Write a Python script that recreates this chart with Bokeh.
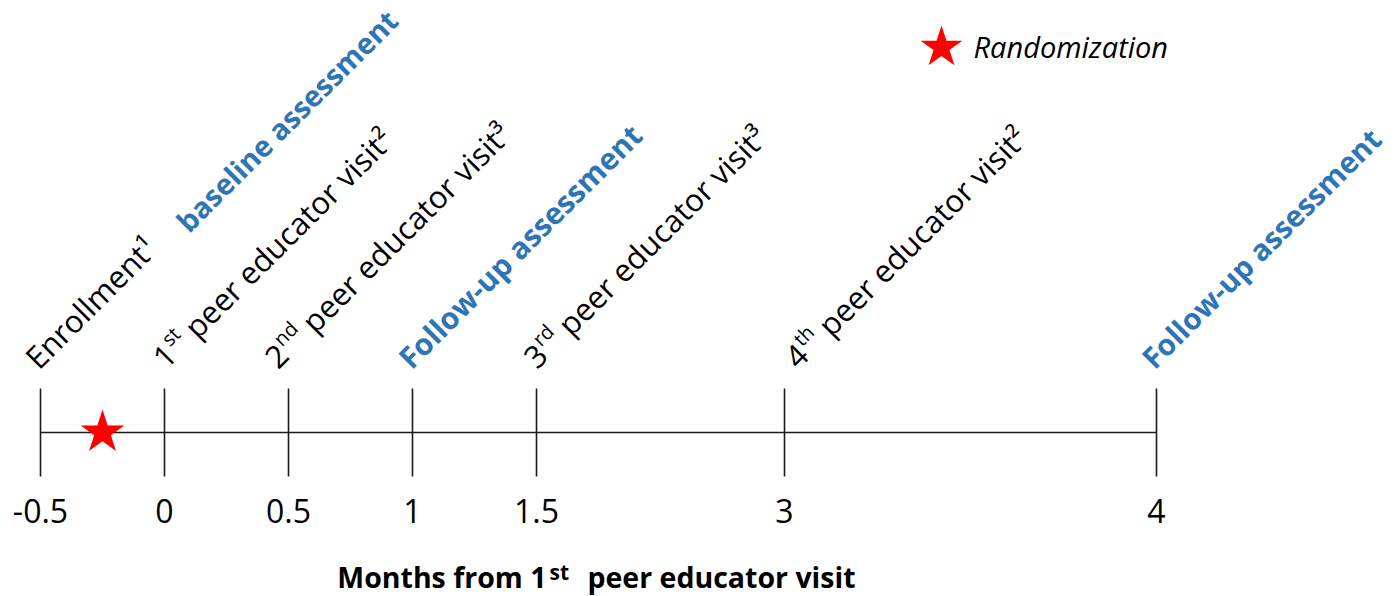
import math
import numpy as np
from bokeh.plotting import figure
from bokeh.models import Range1d
from bokeh.core.properties import value
from bokeh.embed import file_html
from bokeh.resources import INLINE

# ---------------- data ----------------
months = [-0.5, 0, 0.5, 1, 1.5, 3, 4]
tick_labels = ["-0.5", "0", "0.5", "1", "1.5", "3", "4"]
# event label at each month: prefix, superscript ordinal, remainder
event_prefix = ["Enrollment\u00b9", "1", "2", "Follow-up assessment", "3", "4", "Follow-up assessment"]
event_ordinal = ["", "st", "nd", "", "rd", "th", ""]
event_rest = ["", " peer educator visit\u00b2", " peer educator visit\u00b3", "",
              " peer educator visit\u00b3", " peer educator visit\u00b2", ""]
event_kind = ["visit", "visit", "visit", "assessment", "visit", "visit", "assessment"]
baseline_label = "baseline assessment"
baseline_month = -0.5
randomization_month = -0.25
title_left, title_sup, title_right = "Months from 1", "st", "peer educator visit"
legend_label = "Randomization"

# ---------------- layout ----------------
slot_pos = [0, 1, 2, 3, 4, 6, 9]          # display slots of the months (non-linear time axis)
PX = 124.0                                  # pixels per slot
label_dx = [-10, -6, -18, -9, -7, 6, -10]   # px shift of each rotated label start
LABEL_Y = 70                                # px above the timeline
TICK_HALF = 44
FONT = value("Open Sans")
BLUE = "#2E75B6"
RED = "#FF0000"
LINE = "#1a1a1a"
FS = 31.0                                   # rotated label font size
SUP = 20.0                                  # superscript font size
RAISE = 10.0
DIGIT_W = 0.572 * FS
SPACE_W = 0.26 * FS
SUP_W = {"st": 0.83, "nd": 1.227, "rd": 1.021, "th": 0.967}

W, H = 1396, 596
x0 = -40.0 / PX
p = figure(width=W, height=H, x_range=Range1d(x0, x0 + W / PX),
           y_range=Range1d(-(H - 432), 432), output_backend="svg",
           toolbar_location=None, x_axis_type=None, y_axis_type=None,
           min_border=0, outline_line_color=None)
p.grid.visible = False


def slot(m):
    return float(np.interp(m, months, slot_pos))


xs = [slot(m) for m in months]
c = math.cos(math.pi / 4)


def along(x, y, a, b=0.0):
    """move a px along the 45deg text direction and b px perpendicular (up)."""
    return x + (a * c - b * c) / PX, y + a * c + b * c


# timeline
p.segment(x0=[xs[0]], y0=[0], x1=[xs[-1]], y1=[0], line_color=LINE, line_width=1.6)
p.segment(x0=xs, y0=[-TICK_HALF] * len(xs), x1=xs, y1=[TICK_HALF] * len(xs),
          line_color=LINE, line_width=1.6)

# randomization star
p.scatter(x=[slot(randomization_month)], y=[0], marker="star", size=46,
          fill_color=RED, line_color=None)

# tick labels
p.text(x=xs, y=[-78] * len(xs), text=tick_labels, text_font=FONT, text_font_size="32px",
       text_align="center", text_baseline="middle", text_color="black")

# rotated event labels
ang = math.pi / 4
main_x, main_y, main_t = [], [], []
sup_x, sup_y, sup_t = [], [], []
rest_x, rest_y, rest_t = [], [], []
bold_x, bold_y, bold_t, bold_fs = [], [], [], []
for i, m in enumerate(months):
    ax, ay = xs[i] + label_dx[i] / PX, LABEL_Y
    if event_kind[i] == "assessment":
        bold_x.append(ax); bold_y.append(ay); bold_t.append(event_prefix[i])
        bold_fs.append("30px" if i < len(months) - 1 else "29.5px")
        continue
    main_x.append(ax); main_y.append(ay); main_t.append(event_prefix[i])
    if event_ordinal[i]:
        sx, sy = along(ax, ay, DIGIT_W + 1, RAISE)
        sup_x.append(sx); sup_y.append(sy); sup_t.append(event_ordinal[i])
        rx, ry = along(ax, ay, DIGIT_W + 1 + SUP_W[event_ordinal[i]] * SUP + SPACE_W)
        rest_x.append(rx); rest_y.append(ry); rest_t.append(event_rest[i].lstrip())

# baseline assessment continues the enrollment label on the same diagonal
bx, byy = along(slot(baseline_month) + label_dx[0] / PX, LABEL_Y, 203, -10)
bold_x.append(bx); bold_y.append(byy); bold_t.append(baseline_label); bold_fs.append("29px")

common = dict(angle=ang, text_font=FONT, text_align="left", text_baseline="alphabetic")
p.text(x=main_x, y=main_y, text=main_t, text_font_size=f"{FS}px", text_color="black", **common)
p.text(x=rest_x, y=rest_y, text=rest_t, text_font_size=f"{FS}px", text_color="black", **common)
p.text(x=sup_x, y=sup_y, text=sup_t, text_font_size=f"{SUP}px", text_color="black", **common)
p.text(x=bold_x, y=bold_y, text=bold_t, text_font_size=bold_fs, text_font_style="bold",
       text_color=BLUE, **common)

# axis title (with superscript)
tx = (xs[0] + xs[-1]) / 2
tcommon = dict(text_font=FONT, text_font_style="bold", text_baseline="middle",
               text_color="black")
p.text(x=[tx - 52 / PX], y=[-144], text=[title_left], text_font_size="28.5px",
       text_align="right", **tcommon)
p.text(x=[tx - 49 / PX], y=[-139], text=[title_sup], text_font_size="21px",
       text_align="left", **tcommon)
p.text(x=[tx - 11 / PX], y=[-144], text=[title_right], text_font_size="28.5px",
       text_align="left", **tcommon)

# legend
lx = slot(months[-1]) - 215 / PX
p.scatter(x=[lx], y=[385], marker="star", size=44, fill_color=RED, line_color=None)
p.text(x=[lx + 32 / PX], y=[386], text=[legend_label], text_font=FONT,
       text_font_size="29px", text_font_style="italic", text_align="left",
       text_baseline="middle", text_color="black")

open("out.html", "w").write(file_html(p, INLINE))
